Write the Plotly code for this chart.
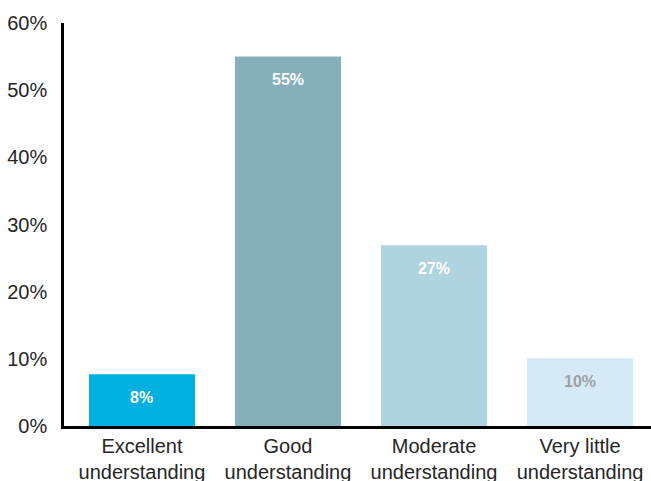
import plotly.graph_objects as go

categories = ["Excellent<br>understanding", "Good<br>understanding",
              "Moderate<br>understanding", "Very little<br>understanding"]
values = [7.7, 55.0, 26.9, 10.1]
labels = ["8%", "55%", "27%", "10%"]
bar_colors = ["#00b0e0", "#86afbc", "#afd3df", "#d5eaf7"]
label_colors = ["#ffffff", "#ffffff", "#ffffff", "#a0a0a0"]
y_ticks = [0, 10, 20, 30, 40, 50, 60]
y_tick_text = ["0%", "10%", "20%", "30%", "40%", "50%", "60%"]

fig = go.Figure()
fig.add_trace(go.Bar(
    x=list(range(len(categories))), y=values,
    marker=dict(color=bar_colors, line=dict(width=0)),
    width=0.726, hoverinfo="skip",
))

for i, (v, t, c) in enumerate(zip(values, labels, label_colors)):
    fig.add_annotation(x=i, y=v, text=t, showarrow=False, yshift=-23,
                       font=dict(family="Liberation Sans, Arial, sans-serif",
                                 size=16, color=c, weight="bold"))

fig.update_layout(
    width=651, height=481,
    margin=dict(l=64, r=0, t=23, b=55, autoexpand=False),
    paper_bgcolor="white", plot_bgcolor="white",
    showlegend=False,
    font=dict(family="Liberation Sans, Arial, sans-serif", size=20, color="#262626"),
    xaxis=dict(
        range=[-0.534, 3.486],
        tickmode="array", tickvals=list(range(len(categories))), ticktext=categories,
        showline=True, linecolor="black", linewidth=2.5,
        showgrid=False, zeroline=False, ticks="",
        tickfont=dict(size=20, color="#262626"),
        automargin=False,
    ),
    yaxis=dict(
        range=[0, 60],
        tickmode="array", tickvals=y_ticks, ticktext=y_tick_text,
        showline=True, linecolor="black", linewidth=2.5,
        showgrid=False, zeroline=False, ticks="",
        ticklabelstandoff=10,
        tickfont=dict(size=20, color="#262626"),
        automargin=False,
    ),
)

fig.write_html("out.html", config={"displayModeBar": False},
               post_script="document.body.style.margin='0';document.body.style.overflow='hidden';")
